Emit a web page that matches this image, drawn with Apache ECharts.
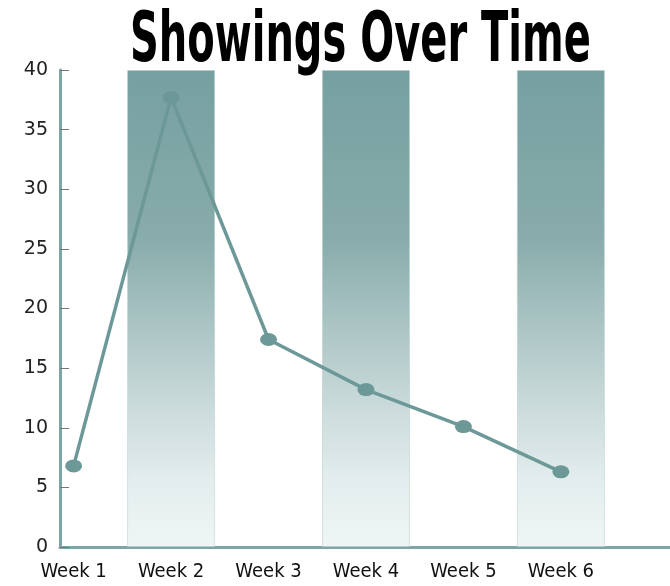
<!DOCTYPE html>
<html>
<head>
<meta charset="utf-8">
<title>Showings Over Time</title>
<script src="https://cdn.jsdelivr.net/npm/echarts@6/dist/echarts.min.js"></script>
<style>
  html, body { margin: 0; padding: 0; background: #fff; }
  #main { width: 670px; height: 586px; }
</style>
</head>
<body>
<div id="main"></div>
<script>
// data
var weeks = ['Week 1', 'Week 2', 'Week 3', 'Week 4', 'Week 5', 'Week 6'];
var showings = [6.8, 37.7, 17.4, 13.2, 10.1, 6.3];
var bandWeeks = [1, 3, 5];   // shaded columns (Week 2, 4, 6)
var bandTop = 40;

var teal = '#6d9898';
var chart = echarts.init(document.getElementById('main'));

var option = {
  animation: false,
  graphic: [{
    type: 'text',
    x: 130,
    y: 8,
    scaleX: 0.635,
    style: {
      text: 'Showings Over Time',
      font: 'bold 70px "DejaVu Sans Condensed", sans-serif',
      fill: '#000'
    }
  }],
  grid: { left: 60, right: 0, top: 70, bottom: 39 },
  xAxis: {
    type: 'value',
    min: -0.14,
    max: 6.12,
    splitLine: { show: false },
    axisLine: { show: true, lineStyle: { color: '#7ea5a5', width: 3 } },
    axisTick: { show: false },
    axisLabel: {
      customValues: weeks.map(function (w, i) { return i; }),
      formatter: function (v) { return weeks[v] || ''; },
      margin: 15,
      color: '#111',
      fontSize: 20,
      fontFamily: '"DejaVu Sans Condensed", sans-serif'
    }
  },
  yAxis: {
    type: 'value',
    min: 0,
    max: 40,
    interval: 5,
    splitLine: { show: false },
    axisLine: { show: true, onZero: false, lineStyle: { color: '#7ea5a5', width: 3 } },
    axisTick: { show: true, inside: true, length: 9, lineStyle: { color: '#777', width: 1 } },
    axisLabel: {
      margin: 12,
      color: '#222',
      fontSize: 19,
      fontFamily: '"DejaVu Sans", sans-serif'
    }
  },
  series: [
    {
      type: 'bar',
      barWidth: 88,
      silent: true,
      z: 1,
      data: bandWeeks.map(function (i) { return [i, bandTop]; }),
      itemStyle: {
        borderColor: '#b3caca',
        borderWidth: 1,
        borderType: 'dotted',
        color: new echarts.graphic.LinearGradient(0, 0, 0, 1, [
          { offset: 0, color: '#76a0a0' },
          { offset: 0.35, color: '#88abab' },
          { offset: 0.52, color: '#a8c2c2' },
          { offset: 0.72, color: '#cddcdc' },
          { offset: 0.86, color: '#e3eded' },
          { offset: 1, color: '#eff5f5' }
        ])
      }
    },
    {
      type: 'line',
      z: 3,
      data: showings.map(function (v, i) { return [i, v]; }),
      symbol: 'circle',
      symbolSize: [17, 13],
      lineStyle: { color: teal, width: 3.5 },
      itemStyle: { color: teal }
    }
  ]
};

chart.setOption(option);
</script>
</body>
</html>
